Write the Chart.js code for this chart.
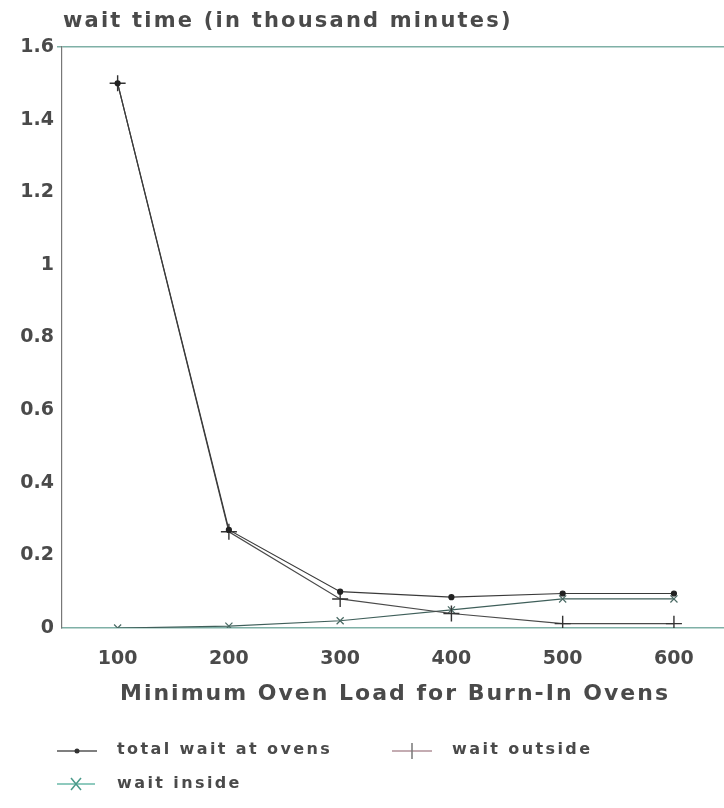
<!DOCTYPE html>
<html>
<head>
<meta charset="utf-8">
<script src="https://cdn.jsdelivr.net/npm/chart.js@4/dist/chart.umd.min.js"></script>
<style>
  body { margin: 0; background: #fff; }
  #wrap { position: relative; width: 724px; height: 808px; overflow: hidden; }
  #title { position: absolute; left: 63px; top: 8px; font: bold 21px "DejaVu Sans", sans-serif; color: #4a4a4a; letter-spacing: 2.2px; white-space: nowrap; }
  #xtitle { position: absolute; left: 0; width: 790px; top: 680px; text-align: center; font: bold 22px "DejaVu Sans", sans-serif; color: #4a4a4a; letter-spacing: 2px; white-space: nowrap; }
  .leg { position: absolute; font: bold 16px "DejaVu Sans", sans-serif; color: #4a4a4a; letter-spacing: 2.4px; white-space: nowrap; }
  .sw { position: absolute; }
</style>
</head>
<body>
<div id="wrap">
  <canvas id="testChart" width="724" height="808"></canvas>
  <div id="title">wait time (in thousand minutes)</div>
  <div id="xtitle">Minimum Oven Load for Burn-In Ovens</div>
  <svg class="sw" style="left:55px;top:741px" width="45" height="20"><line x1="2" y1="10" x2="42" y2="10" stroke="#555" stroke-width="1.5"/><circle cx="22" cy="10" r="2.5" fill="#333"/></svg>
  <div class="leg" style="left:117px;top:739px">total wait at ovens</div>
  <svg class="sw" style="left:390px;top:741px" width="45" height="20"><line x1="2" y1="10" x2="42" y2="10" stroke="#b09098" stroke-width="1.5"/><line x1="22" y1="2" x2="22" y2="18" stroke="#777" stroke-width="1.5"/></svg>
  <div class="leg" style="left:452px;top:739px">wait outside</div>
  <svg class="sw" style="left:55px;top:774px" width="45" height="20"><line x1="2" y1="10" x2="40" y2="10" stroke="#6ab8a8" stroke-width="1.5"/><line x1="16" y1="4" x2="26" y2="16" stroke="#4a9a8a" stroke-width="1.5"/><line x1="26" y1="4" x2="16" y2="16" stroke="#4a9a8a" stroke-width="1.5"/></svg>
  <div class="leg" style="left:117px;top:773px">wait inside</div>
</div>
<script>
var loads = [100, 200, 300, 400, 500, 600];
var totalWait = [1.5, 0.27, 0.10, 0.085, 0.095, 0.095];
var waitOutside = [1.5, 0.265, 0.08, 0.04, 0.012, 0.012];
var waitInside = [0, 0.005, 0.02, 0.05, 0.08, 0.08];
var yTicks = [0, 0.2, 0.4, 0.6, 0.8, 1, 1.2, 1.4, 1.6];

function pts(vals) {
    return loads.map(function (x, i) { return { x: x, y: vals[i] }; });
}

var ctx = document.getElementById("testChart");

var chartData = {
    datasets: [{
        label: 'total wait at ovens',
        data: pts(totalWait),
        borderColor: '#3a3a3a',
        backgroundColor: '#222',
        borderWidth: 1.2,
        pointStyle: 'circle',
        pointRadius: 2.5,
        pointBorderColor: '#222'
    },
    {
        label: 'wait outside',
        data: pts(waitOutside),
        borderColor: '#4a4a4a',
        backgroundColor: '#333',
        borderWidth: 1.2,
        pointStyle: 'cross',
        pointRadius: 8,
        pointBorderWidth: 1.4,
        pointBorderColor: '#333'
    },
    {
        label: 'wait inside',
        data: pts(waitInside),
        borderColor: '#3f5f5a',
        backgroundColor: '#3f5f5a',
        borderWidth: 1.2,
        pointStyle: 'crossRot',
        pointRadius: 5,
        pointBorderWidth: 1.2,
        pointBorderColor: '#4a6a64'
    }]
};

var testChart = new Chart(ctx, {
    type: 'line',
    data: chartData,
    options: {
        responsive: false,
        animation: false,
        layout: { autoPadding: false, padding: { top: 47, right: 0, bottom: 0, left: 0 } },
        plugins: {
            legend: { display: false },
            tooltip: { enabled: false }
        },
        scales: {
            x: {
                type: 'linear',
                min: 50,
                max: 645,
                afterBuildTicks: function (axis) {
                    axis.ticks = loads.map(function (v) { return { value: v }; });
                },
                afterFit: function (axis) {
                    axis.height = 180;
                    axis.paddingLeft = 0;
                    axis.paddingRight = 0;
                },
                grid: { display: false },
                border: { display: true, color: '#7fb0a6', width: 1.5 },
                ticks: {
                    color: '#4a4a4a',
                    padding: 12,
                    maxRotation: 0,
                    font: { family: 'DejaVu Sans', size: 19, weight: 'bold' }
                }
            },
            y: {
                min: 0,
                max: 1.6,
                afterBuildTicks: function (axis) {
                    axis.ticks = yTicks.map(function (v) { return { value: v }; });
                },
                afterFit: function (axis) {
                    axis.width = 62;
                    axis.paddingTop = 0;
                    axis.paddingBottom = 0;
                },
                grid: {
                    drawTicks: true,
                    tickLength: 5,
                    lineWidth: 1.5,
                    color: function (c) {
                        return c.tick && c.tick.value === 1.6 ? '#7fb0a6' : 'rgba(0,0,0,0)';
                    }
                },
                border: { display: true, color: '#777', width: 1.2 },
                ticks: {
                    color: '#4a4a4a',
                    padding: 3,
                    font: { family: 'DejaVu Sans', size: 19, weight: 'bold' },
                    callback: function (v) { return String(Math.round(v * 10) / 10); }
                }
            }
        }
    }
});
</script>
</body>
</html>
